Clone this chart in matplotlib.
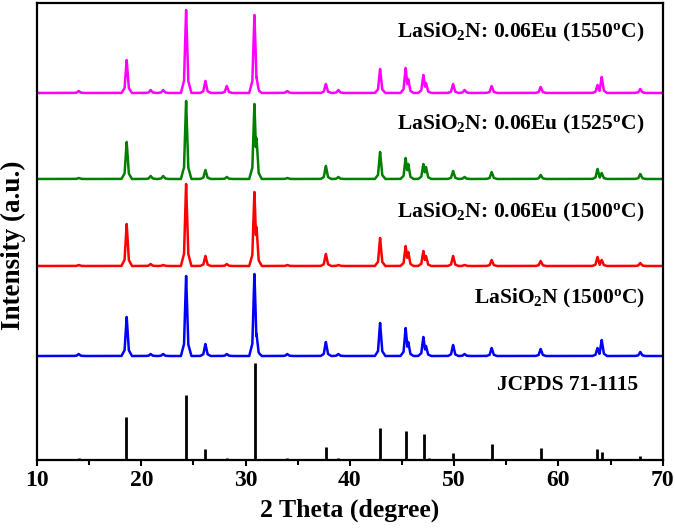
import numpy as np
import matplotlib
matplotlib.use("Agg")
import matplotlib.pyplot as plt
from matplotlib.ticker import MultipleLocator

plt.rcParams['font.family'] = 'Liberation Serif'
plt.rcParams['font.weight'] = 'bold'
plt.rcParams['mathtext.fontset'] = 'custom'
plt.rcParams['mathtext.rm'] = 'Liberation Serif:bold'
plt.rcParams['mathtext.it'] = 'Liberation Serif:bold'
plt.rcParams['mathtext.bf'] = 'Liberation Serif:bold'

# JCPDS 71-1115 reference sticks (2theta, relative height)
ref_pos = [14.03, 18.57, 23.37, 24.32, 26.15, 28.2, 30.87, 34.0, 37.68, 38.86,
           42.92, 45.35, 47.08, 47.58, 49.89, 50.84, 53.66, 54.2, 58.32,
           63.69, 64.17, 67.85]
ref_int = [2, 43, 1, 65, 11, 2, 97, 2, 13, 2,
           32, 29, 26, 2, 7, 1, 16, 1, 12,
           11, 8, 4]

peak_pos = [14.0, 18.6, 20.9, 22.1, 24.3, 26.15, 28.2, 30.85, 31.05, 34.0,
            37.7, 38.9, 42.9, 45.35, 45.6, 47.05, 47.3, 49.9, 51.0, 53.6,
            58.3, 63.75, 64.15, 67.85]
blue_int = [2, 39, 2, 2, 80, 12, 2, 82, 22, 2,
            14, 2, 33, 28, 14, 19, 10, 11, 2, 8,
            7, 8, 16, 4]
red_int = [1, 42, 2, 1, 82, 10, 2, 74, 39, 1,
           12, 1, 28, 20, 14, 15, 10, 10, 1, 6,
           5, 9, 6, 3]
green_int = [1, 37, 3, 3, 78, 9, 2, 75, 41, 1,
             13, 2, 27, 21, 15, 15, 12, 8, 2, 7,
             4, 10, 6, 5]
pink_int = [2, 33, 3, 3, 83, 12, 7, 78, 16, 2,
            9, 3, 24, 25, 14, 18, 10, 9, 3, 7,
            6, 8, 16, 4]

labels = ["LaSiO$_\\mathrm{2}$N (1500$^\\mathrm{o}$C)",
          "LaSiO$_\\mathrm{2}$N: 0.06Eu (1500$^\\mathrm{o}$C)",
          "LaSiO$_\\mathrm{2}$N: 0.06Eu (1525$^\\mathrm{o}$C)",
          "LaSiO$_\\mathrm{2}$N: 0.06Eu (1550$^\\mathrm{o}$C)"]
colors = ['#0000ff', '#ff0000', '#008000', '#ff00ff']
offsets = [104, 194, 281, 367]
label_y = [162, 248, 335, 427]

# peak shape used to draw each reflection
shape_dx = [-0.5, -0.2, -0.08, 0.0, 0.08, 0.2, 0.5]
shape_dy = [0.0, 0.15, 0.7, 1.0, 0.7, 0.15, 0.0]

x = np.linspace(10, 70, 12001)


def pattern(heights):
    y = np.zeros_like(x)
    for p, h in zip(peak_pos, heights):
        prof = np.interp(x - p, shape_dx, shape_dy, left=0, right=0) * h
        y = np.maximum(y, prof)
    return y


fig = plt.figure(figsize=(6.75, 5.29), dpi=100)
ax = fig.add_axes([0.0548, 0.1304, 0.927, 0.864])

ax.vlines(ref_pos, 0, ref_int, color='black', linewidth=2)

for ints, c, off in zip([blue_int, red_int, green_int, pink_int], colors, offsets):
    ax.plot(x, pattern(ints) + off, color=c, linewidth=1.8)

for lab, ly in zip(labels, label_y):
    ax.annotate(lab, xy=(1, ly), xycoords=('axes fraction', 'data'),
                xytext=(-18, 0), textcoords='offset pixels',
                ha='right', va='center', fontsize=15.5, fontweight='bold')
ax.annotate("JCPDS 71-1115", xy=(1, 75), xycoords=('axes fraction', 'data'),
            xytext=(-25, 0), textcoords='offset pixels',
            ha='right', va='center', fontsize=15.5, fontweight='bold')

ax.set_xlim(10, 70)
ax.set_ylim(0, 457)
ax.xaxis.set_major_locator(MultipleLocator(10))
ax.xaxis.set_minor_locator(MultipleLocator(5))
ax.set_yticks([])
ax.tick_params(axis='x', which='major', direction='out', length=4, width=1.5,
               labelsize=17, pad=3)
ax.tick_params(axis='x', which='minor', direction='out', length=3.5, width=1.5)
for lbl in ax.get_xticklabels():
    lbl.set_fontweight('bold')
for s in ax.spines.values():
    s.set_linewidth(1.6)

ax.set_xlabel("2 Theta (degree)", fontsize=18.5, fontweight='bold', labelpad=6)
ax.set_ylabel("Intensity (a.u.)", fontsize=19.5, fontweight='bold')
ax.yaxis.set_label_coords(-0.017, 0.47)

fig.savefig("out.png", dpi=100)
